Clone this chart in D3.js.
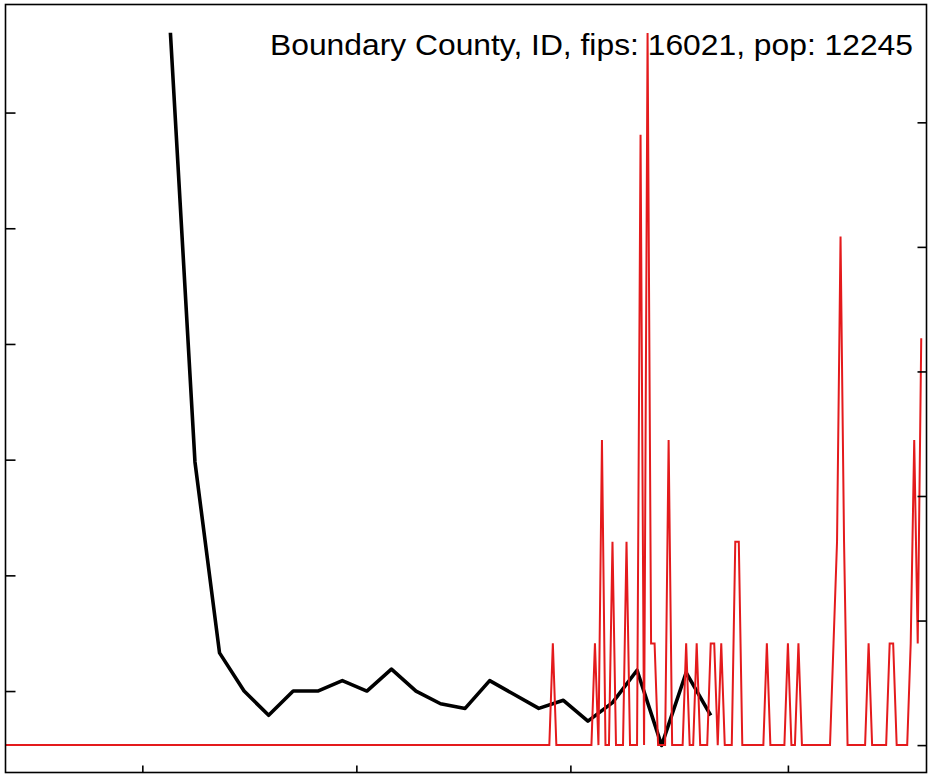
<!DOCTYPE html>
<html><head><meta charset="utf-8">
<script src="https://cdn.jsdelivr.net/npm/d3@7"></script>
<style>html,body{margin:0;padding:0;background:#fff}svg{display:block}</style>
</head><body><svg id="chart" width="928" height="774"></svg>
<script>
// ---- data ----
const title = "Boundary County, ID, fips: 16021, pop: 12245";
const population = 12245;
const seriesStart = "2020-01-22";
const seriesEnd = "2020-10-09";
const domainEnd = "2020-10-10T12:00:00Z";
// days with new cases (all other days 0)
const caseDates = ["2020-06-26","2020-07-08","2020-07-10","2020-07-13","2020-07-17","2020-07-21","2020-07-23","2020-07-24","2020-07-25","2020-07-29","2020-08-03","2020-08-06","2020-08-10","2020-08-11","2020-08-13","2020-08-17","2020-08-18","2020-08-26","2020-09-01","2020-09-04","2020-09-14","2020-09-15","2020-09-16","2020-09-17","2020-09-24","2020-09-30","2020-10-01","2020-10-06","2020-10-07","2020-10-08","2020-10-09"];
const caseCounts = [1,1,3,2,2,6,7,1,1,3,1,1,1,1,1,2,2,1,1,1,1,2,5,2,1,1,1,1,3,1,4];
// weekly black series (left axis)
const weekDates = ["2020-03-09","2020-03-16","2020-03-23","2020-03-30","2020-04-06","2020-04-13","2020-04-20","2020-04-27","2020-05-04","2020-05-11","2020-05-18","2020-05-25","2020-06-01","2020-06-08","2020-06-15","2020-06-22","2020-06-29","2020-07-06","2020-07-13","2020-07-20","2020-07-27","2020-08-03","2020-08-10"];
const weekValues = [6.69,2.98,1.33,1.00,0.79,1.00,1.00,1.09,1.00,1.19,1.00,0.89,0.85,1.09,0.97,0.85,0.92,0.74,0.90,1.18,0.53,1.16,0.79];
const xTickDates = ["2020-03-01","2020-05-01","2020-07-01","2020-09-01"];
const leftTicks = [1,2,3,4,5,6];
const rightTicks = [0,10,20,30,40,50];

// ---- layout ----
const L = 5.5, R = 926.5, T = 4.5, B = 772.5;
const svg = d3.select("#chart");
const parse = s => new Date(s.length === 10 ? s + "T00:00:00Z" : s);

const x = d3.scaleUtc().domain([parse(seriesStart), parse(domainEnd)]).range([L, R]);
const yL = d3.scaleLinear().domain([0.296, 6.934]).range([B, T]);
const yR = d3.scaleLinear().domain([-2.2, 59.46]).range([B, T]);

// daily series
const caseMap = new Map(caseDates.map((d, i) => [d, caseCounts[i]]));
const days = d3.utcDay.range(parse(seriesStart), d3.utcDay.offset(parse(seriesEnd), 1));
const daily = days.map(d => {
  const key = d.toISOString().slice(0, 10);
  const c = caseMap.get(key) || 0;
  return { date: d, per100k: c * 100000 / population };
});
const weekly = weekDates.map((d, i) => ({ date: parse(d), v: weekValues[i] }));

// black line
svg.append("path").datum(weekly)
  .attr("fill", "none").attr("stroke", "#000").attr("stroke-width", 3.6)
  .attr("stroke-linejoin", "round")
  .attr("d", d3.line().x(d => x(d.date)).y(d => yL(d.v)));

// red line
svg.append("path").datum(daily)
  .attr("fill", "none").attr("stroke", "#e41a1c").attr("stroke-width", 2)
  .attr("stroke-linejoin", "miter")
  .attr("d", d3.line().x(d => x(d.date)).y(d => yR(d.per100k)));

// axes (ticks inward, no labels)
const axB = svg.append("g").attr("transform", `translate(0,${B})`)
  .call(d3.axisBottom(x).tickValues(xTickDates.map(parse)).tickSize(-7).tickFormat(""));
const axL = svg.append("g").attr("transform", `translate(${L},0)`)
  .call(d3.axisLeft(yL).tickValues(leftTicks).tickSize(-10).tickFormat(""));
const axR = svg.append("g").attr("transform", `translate(${R},0)`)
  .call(d3.axisRight(yR).tickValues(rightTicks).tickSize(-9).tickFormat(""));
[axB, axL, axR].forEach(g => {
  g.select(".domain").remove();
  g.selectAll(".tick line").attr("stroke", "#000").attr("stroke-width", 1.6);
});

// frame
svg.append("rect").attr("x", L).attr("y", T).attr("width", R - L).attr("height", B - T)
  .attr("fill", "none").attr("stroke", "#000").attr("stroke-width", 1.6);

// title
svg.append("text").attr("x", 270).attr("y", 55)
  .attr("font-family", "'Liberation Sans', Arial, Helvetica, sans-serif")
  .attr("font-size", 29).attr("fill", "#000")
  .attr("textLength", 643).attr("lengthAdjust", "spacingAndGlyphs")
  .text(title);
</script>
</body></html>
